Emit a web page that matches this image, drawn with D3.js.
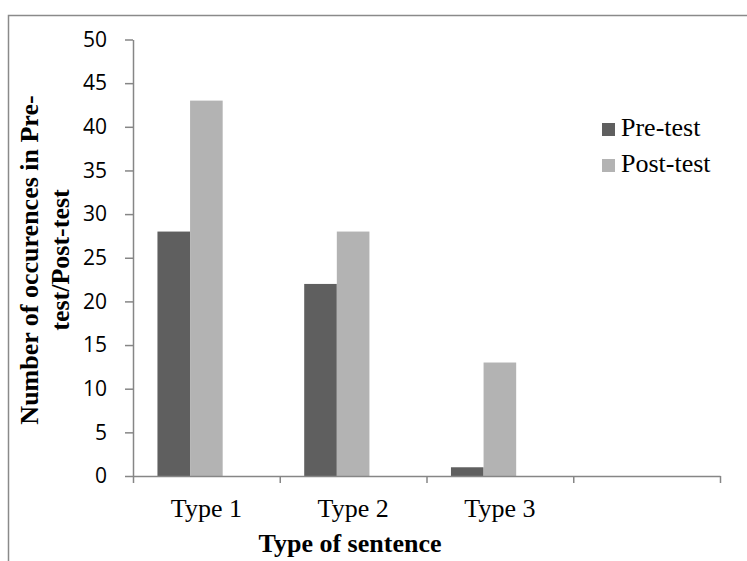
<!DOCTYPE html>
<html>
<head>
<meta charset="utf-8">
<script src="https://cdn.jsdelivr.net/npm/d3@7"></script>
<style>
  html, body { margin: 0; padding: 0; background: #fff; }
  svg { display: block; }
</style>
</head>
<body>
<svg id="chart" width="747" height="561"></svg>
<script>
// Sentence types on the horizontal axis (the fourth slot is an empty category)
const categories = ["Type 1", "Type 2", "Type 3", ""];
const seriesNames = ["Pre-test", "Post-test"];
const preTest  = [28, 22, 1, null];
const postTest = [43, 28, 13, null];
const yTicks = [0, 5, 10, 15, 20, 25, 30, 35, 40, 45, 50];
const seriesColors = ["#5f5f5f", "#b3b3b3"];

const svg = d3.select("#chart");
const W = 747, H = 561;
const plotLeft = 133, plotRight = 720, plotTop = 39.5, plotBottom = 476;

// outer chart frame
svg.append("rect")
  .attr("x", 8.5).attr("y", 15.5)
  .attr("width", W + 20).attr("height", H + 20)
  .attr("fill", "none").attr("stroke", "#8a8a8a").attr("stroke-width", 1.5);

const y = d3.scaleLinear().domain([0, 50]).range([plotBottom, plotTop]);

// each category holds three bar slots; the third slot stays empty
const x0 = d3.scaleBand().domain(categories).range([plotLeft, plotRight])
  .paddingInner(1 / 3).paddingOuter(1 / 6);
const x1 = d3.scaleBand().domain([...seriesNames, "(empty)"]).range([0, x0.bandwidth()]);

const seriesValues = [preTest, postTest];

// bars
seriesNames.forEach((name, si) => {
  svg.append("g").selectAll("rect")
    .data(categories.map((c, i) => ({ c, v: seriesValues[si][i] })).filter(d => d.v != null))
    .join("rect")
    .attr("x", d => x0(d.c) + x1(name))
    .attr("y", d => y(d.v))
    .attr("width", x1.bandwidth())
    .attr("height", d => y(0) - y(d.v))
    .attr("fill", seriesColors[si]);
});

// y axis
const yAxis = svg.append("g")
  .attr("transform", `translate(${plotLeft},0)`)
  .call(d3.axisLeft(y).tickValues(yTicks).tickSize(8).tickPadding(18).tickSizeOuter(0));
yAxis.select(".domain").attr("stroke", "#868686").attr("stroke-width", 1.5);
yAxis.selectAll(".tick line").attr("stroke", "#868686").attr("stroke-width", 1.5);
yAxis.selectAll(".tick text")
  .attr("font-family", "'Open Sans', sans-serif").attr("font-size", 21).attr("fill", "#000");

// x axis: ticks sit on category boundaries
const xb = d3.scaleLinear().domain([0, categories.length]).range([plotLeft, plotRight]);
const xAxis = svg.append("g")
  .attr("transform", `translate(0,${plotBottom})`)
  .call(d3.axisBottom(xb).tickValues(d3.range(categories.length + 1)).tickSize(7).tickSizeOuter(0).tickFormat(""));
xAxis.select(".domain").attr("stroke", "#868686").attr("stroke-width", 1.5);
xAxis.selectAll(".tick line").attr("stroke", "#868686").attr("stroke-width", 1.5);

// category labels centred in each category slot
svg.append("g").selectAll("text")
  .data(categories)
  .join("text")
  .attr("x", d => x0(d) - x0.step() * x0.paddingOuter() + x0.step() / 2)
  .attr("y", 517)
  .attr("text-anchor", "middle")
  .attr("font-family", "'Liberation Serif', 'Times New Roman', serif")
  .attr("font-size", 26)
  .attr("fill", "#000")
  .text(d => d);

// axis titles
svg.append("text")
  .attr("x", 350).attr("y", 552)
  .attr("text-anchor", "middle")
  .attr("font-family", "'Liberation Serif', 'Times New Roman', serif")
  .attr("font-size", 26).attr("font-weight", "bold")
  .text("Type of sentence");

const yTitle = ["Number of occurences in Pre-", "test/Post-test"];
svg.append("g").selectAll("text")
  .data(yTitle)
  .join("text")
  .attr("transform", (d, i) => `translate(${38 + i * 31},260) rotate(-90)`)
  .attr("text-anchor", "middle")
  .attr("font-family", "'Liberation Serif', 'Times New Roman', serif")
  .attr("font-size", 26).attr("font-weight", "bold")
  .text(d => d);

// legend
const legend = svg.append("g").selectAll("g")
  .data(seriesNames)
  .join("g")
  .attr("transform", (d, i) => `translate(602,${136 + i * 36})`);
legend.append("rect")
  .attr("x", 0).attr("y", -13).attr("width", 13).attr("height", 13)
  .attr("fill", (d, i) => seriesColors[i]);
legend.append("text")
  .attr("x", 19).attr("y", 0)
  .attr("font-family", "'Liberation Serif', 'Times New Roman', serif")
  .attr("font-size", 26)
  .attr("fill", "#000")
  .text(d => d);
</script>
</body>
</html>
